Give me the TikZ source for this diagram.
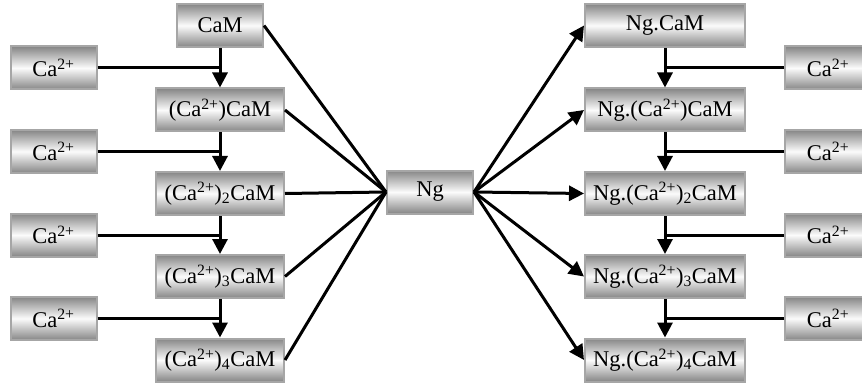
\documentclass[tikz,border=0pt]{standalone}
\usepackage{fontspec}
\setmainfont{Liberation Serif}
\usetikzlibrary{arrows.meta}
\newcommand{\caion}{Ca\textsuperscript{2+}}
\begin{document}
\begin{tikzpicture}[x=1pt,y=-1pt,
  box/.style={draw=gray!70,line width=2pt,rectangle,
    top color=gray!95,bottom color=gray!95,middle color=gray!3,
    minimum height=43pt,inner sep=0pt,
    font=\fontsize{22.5}{26}\selectfont},
  ionbox/.style={box,minimum width=86pt},
  smallbox/.style={box,minimum width=86pt},
  chainbox/.style={box,minimum width=128pt},
  complexbox/.style={box,minimum width=160pt},
  link/.style={line width=3pt},
  flow/.style={line width=3pt,-{Triangle[length=15pt,width=15pt]}},
  ]
\useasboundingbox (0,0) rectangle (862,385);

% left calcium ions
\node[ionbox] (la1) at (53.5,68) {\caion};
\node[ionbox] (la2) at (53.5,151.5) {\caion};
\node[ionbox] (la3) at (53.5,235) {\caion};
\node[ionbox] (la4) at (53.5,318.5) {\caion};

% free calmodulin states
\node[smallbox] (m0) at (220,25.5) {CaM};
\node[chainbox] (m1) at (220,110) {(\caion)CaM};
\node[chainbox] (m2) at (220,193.5) {(\caion)\textsubscript{2}CaM};
\node[chainbox] (m3) at (220,276.5) {(\caion)\textsubscript{3}CaM};
\node[chainbox] (m4) at (220,360) {(\caion)\textsubscript{4}CaM};

% neurogranin
\node[smallbox] (ng) at (430,192) {Ng};

% neurogranin-bound states
\node[complexbox] (n0) at (665,25.5) {Ng.CaM};
\node[complexbox] (n1) at (665,110) {Ng.(\caion)CaM};
\node[complexbox] (n2) at (665,193.5) {Ng.(\caion)\textsubscript{2}CaM};
\node[complexbox] (n3) at (665,276.5) {Ng.(\caion)\textsubscript{3}CaM};
\node[complexbox] (n4) at (665,360) {Ng.(\caion)\textsubscript{4}CaM};

% right calcium ions
\node[ionbox] (ra1) at (828,68) {\caion};
\node[ionbox] (ra2) at (828,151.5) {\caion};
\node[ionbox] (ra3) at (828,235) {\caion};
\node[ionbox] (ra4) at (828,318.5) {\caion};

% calcium binding steps
\foreach \a/\b/\c in {0/1/1,1/2/2,2/3/3,3/4/4}{
  \draw[flow] (m\a.south) -- (m\b.north);
  \draw[link] (la\c.east) -- (la\c.east -| m\a.south);
  \draw[flow] (n\a.south) -- (n\b.north);
  \draw[link] (ra\c.west) -- (ra\c.west -| n\a.south);
}

% binding to neurogranin
\foreach \i in {0,...,4}{
  \draw[link] (m\i.east) -- (ng.west);
  \draw[flow] (ng.east) -- (n\i.west);
}
\end{tikzpicture}
\end{document}
